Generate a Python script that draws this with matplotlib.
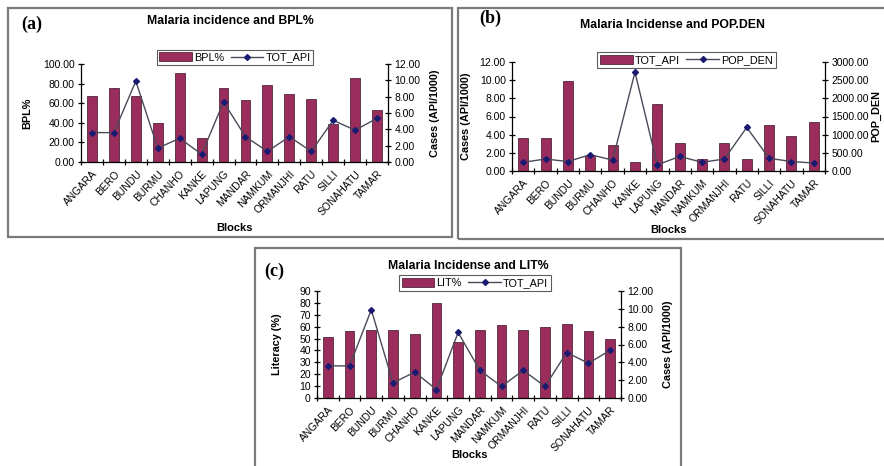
import matplotlib.pyplot as plt
import numpy as np
from matplotlib.patches import Rectangle, Patch
from matplotlib.lines import Line2D
from matplotlib.ticker import FormatStrFormatter, MultipleLocator, FixedLocator

plt.rcParams['font.family'] = ['Liberation Sans', 'DejaVu Sans']

blocks = ['ANGARA', 'BERO', 'BUNDU', 'BURMU', 'CHANHO', 'KANKE', 'LAPUNG', 'MANDAR',
          'NAMKUM', 'ORMANJHI', 'RATU', 'SILLI', 'SONAHATU', 'TAMAR']
tot_api = [3.6, 3.6, 9.9, 1.7, 2.9, 0.95, 7.35, 3.1, 1.3, 3.1, 1.3, 5.1, 3.9, 5.35]
bpl = [67, 75, 67, 40, 91, 24, 76, 63, 79, 69, 64, 39, 86, 53]
pop_den = [240, 330, 260, 450, 300, 2720, 170, 400, 240, 330, 1200, 350, 260, 220]
lit = [51, 56, 57, 57, 54, 80, 47, 57, 61, 57, 60, 62, 56, 50]

W, H = 884, 466
BAR = '#9b2d5c'
LINE = '#4a4a5a'
MARK = '#1a1a70'
FS = 7.5

fig = plt.figure(figsize=(W / 100, H / 100), dpi=100)
fig.patch.set_facecolor('white')


def box(x0, y0, x1, y1):
    return [x0 / W, 1 - y1 / H, (x1 - x0) / W, (y1 - y0) / H]


def fx(x):
    return x / W


def fy(y):
    return 1 - y / H


def frame(x0, y0, x1, y1):
    fig.patches.append(Rectangle((fx(x0), fy(y1)), (x1 - x0) / W, (y1 - y0) / H,
                                 transform=fig.transFigure, fill=False,
                                 edgecolor='#7a7a7a', lw=1.6, zorder=0))


def panel(rect, bars, line, bar_name, line_name, lmax, lstep, lfmt, rmax, rstep, rfmt,
          title, tag, ylab_l, ylab_r, title_xy, tag_xy, leg_rect, ylab_x, xlab_y):
    ax = fig.add_axes(box(*rect))
    x = np.arange(len(blocks))
    ax.bar(x, bars, width=0.45, color=BAR, edgecolor='#3a1028', lw=0.5, zorder=2)
    ax.set_xlim(-0.5, len(blocks) - 0.5)
    ax.set_ylim(0, lmax)
    ax.yaxis.set_major_locator(MultipleLocator(lstep))
    ax.yaxis.set_major_formatter(FormatStrFormatter(lfmt))
    ax.set_xticks(x)
    ax.set_xticklabels(blocks, rotation=47, ha='right', rotation_mode='anchor', fontsize=FS)
    ax.tick_params(axis='x', length=0, pad=5)
    ax.xaxis.set_minor_locator(FixedLocator(np.arange(-0.5, len(blocks), 1.0)))
    ax.tick_params(axis='x', which='minor', direction='inout', length=5, width=0.9)
    ax.tick_params(axis='y', direction='inout', length=5, width=0.9, labelsize=FS, pad=2)
    for s in ['top', 'right']:
        ax.spines[s].set_visible(False)
    for s in ['left', 'bottom']:
        ax.spines[s].set_linewidth(0.9)

    ax2 = ax.twinx()
    ax2.plot(x, line, color=LINE, lw=1.0, marker='D', markersize=3,
             markerfacecolor=MARK, markeredgecolor=MARK, zorder=3)
    ax2.set_ylim(0, rmax)
    ax2.yaxis.set_major_locator(MultipleLocator(rstep))
    ax2.yaxis.set_major_formatter(FormatStrFormatter(rfmt))
    ax2.tick_params(axis='y', direction='inout', length=5, width=0.9, labelsize=FS, pad=2)
    for s in ['top', 'left', 'bottom']:
        ax2.spines[s].set_visible(False)
    ax2.spines['right'].set_linewidth(0.9)

    mid_y = fy((rect[1] + rect[3]) / 2)
    fig.text(fx(ylab_x[0]), mid_y, ylab_l, rotation=90, ha='center', va='center',
             fontsize=7.8, fontweight='bold')
    fig.text(fx(ylab_x[1]), mid_y, ylab_r, rotation=90, ha='center', va='center',
             fontsize=7.8, fontweight='bold')
    fig.text(fx((rect[0] + rect[2]) / 2), fy(xlab_y), 'Blocks', ha='center', va='center',
             fontsize=8, fontweight='bold')
    fig.text(fx(title_xy[0]), fy(title_xy[1]), title, ha='center', va='center',
             fontsize=8.8, fontweight='bold')
    fig.text(fx(tag_xy[0]), fy(tag_xy[1]), tag, ha='center', va='center',
             fontsize=13, fontweight='bold', family='Liberation Serif')

    handles = [Patch(facecolor=BAR, edgecolor='#3a1028', lw=0.5, label=bar_name),
               Line2D([0], [0], color=LINE, lw=1.0, marker='D', markersize=3,
                      markerfacecolor=MARK, markeredgecolor=MARK, label=line_name)]
    lx0, ly0, lx1, ly1 = leg_rect
    leg = fig.legend(handles=handles, loc='center', ncol=2, fontsize=7.8,
                     bbox_to_anchor=(fx((lx0 + lx1) / 2), fy((ly0 + ly1) / 2)),
                     frameon=True, fancybox=False, edgecolor='#333333',
                     handlelength=3.0, handleheight=0.9, handletextpad=0.2,
                     columnspacing=0.6, borderpad=0.25, borderaxespad=0)
    leg.get_frame().set_linewidth(0.8)
    return ax, ax2


# frames
frame(8, 8, 452, 237)
frame(458, 8, 890, 239)
frame(255, 248, 681, 480)

# (a)
panel((81, 64, 388, 162), bpl, tot_api, 'BPL%', 'TOT_API',
      100, 20, '%.2f', 12, 2, '%.2f',
      'Malaria incidence and BPL%', '(a)', 'BPL%', 'Cases (API/1000)',
      (230, 21), (32, 24), (163, 50, 307, 65), (27, 435), 228)

# (b)
panel((512, 62, 825, 171), tot_api, pop_den, 'TOT_API', 'POP_DEN',
      12, 2, '%.2f', 3000, 500, '%.2f',
      'Malaria Incidense and POP.DEN', '(b)', 'Cases (API/1000)', 'POP_DEN',
      (673, 25), (490, 18), (611, 52, 762, 68), (466, 876), 230)

# (c)
panel((317, 291, 621, 398), lit, tot_api, 'LIT%', 'TOT_API',
      90, 10, '%d', 12, 2, '%.2f',
      'Malaria Incidense and LIT%', '(c)', 'Literacy (%)', 'Cases (API/1000)',
      (468, 266), (274, 271), (412, 277, 538, 289), (277, 668), 455)

fig.savefig('out.png', dpi=100, facecolor='white')
